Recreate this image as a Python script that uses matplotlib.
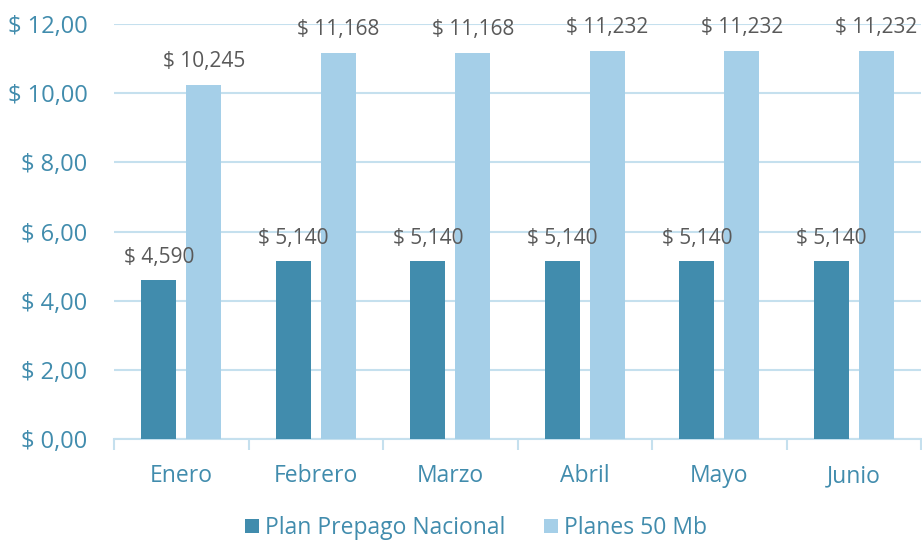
import matplotlib.pyplot as plt
import numpy as np

months = ["Enero", "Febrero", "Marzo", "Abril", "Mayo", "Junio"]
prepago = [4590, 5140, 5140, 5140, 5140, 5140]
planes_50mb = [10245, 11168, 11168, 11232, 11232, 11232]
y_ticks = [0, 2000, 4000, 6000, 8000, 10000, 12000]
y_tick_labels = ["$ 0,00", "$ 2,00", "$ 4,00", "$ 6,00", "$ 8,00", "$ 10,00", "$ 12,00"]

DARK = "#418CAD"
LIGHT = "#A5CFE8"
GRID = "#C5E0EE"
TEXT = "#418CAD"
LABEL = "#595959"

plt.rcParams["font.family"] = ["Open Sans", "DejaVu Sans"]

fig = plt.figure(figsize=(9.22, 5.44), dpi=100)
ax = fig.add_axes([114 / 922, 1 - 439 / 544, 807 / 922, 415 / 544])

x = np.arange(len(months))
width = 0.26
offset = 0.167
bars1 = ax.bar(x - offset, prepago, width, color=DARK, label="Plan Prepago Nacional", zorder=3)
bars2 = ax.bar(x + offset, planes_50mb, width, color=LIGHT, label="Planes 50 Mb", zorder=3)

for bars, values in ((bars1, prepago), (bars2, planes_50mb)):
    for bar, v in zip(bars, values):
        ax.annotate(f"$ {v:,}", (bar.get_x() + bar.get_width() / 2, v),
                    xytext=(0, 9), textcoords="offset points",
                    ha="center", va="bottom", fontsize=15, color=LABEL,
                    zorder=4, annotation_clip=False)

ax.set_xlim(-0.5, len(months) - 0.5)
ax.set_ylim(0, 12000)
ax.set_yticks(y_ticks)
ax.set_yticklabels(y_tick_labels, color=TEXT, fontsize=17)
ax.yaxis.grid(True, color=GRID, linewidth=1.5, zorder=0)
ax.tick_params(axis="y", length=0, pad=19)

# category labels centred, tick marks on the category boundaries
ax.set_xticks(x)
ax.set_xticklabels(months, color=TEXT, fontsize=16.5)
ax.set_xticks(np.arange(len(months) + 1) - 0.5, minor=True)
ax.tick_params(axis="x", which="major", length=0, pad=18)
ax.tick_params(axis="x", which="minor", length=8, width=1.5, color=GRID, direction="out")

for side in ("top", "right", "left"):
    ax.spines[side].set_visible(False)
ax.spines["bottom"].set_color(GRID)
ax.spines["bottom"].set_linewidth(1.5)

fig.legend(loc="center", bbox_to_anchor=(476 / 922, 1 - 528 / 544), ncol=2,
           frameon=False, fontsize=16.5, labelcolor=TEXT, handlelength=0.61,
           handleheight=0.61, handletextpad=0.26, columnspacing=1.7)

fig.savefig("out.png", dpi=100)
